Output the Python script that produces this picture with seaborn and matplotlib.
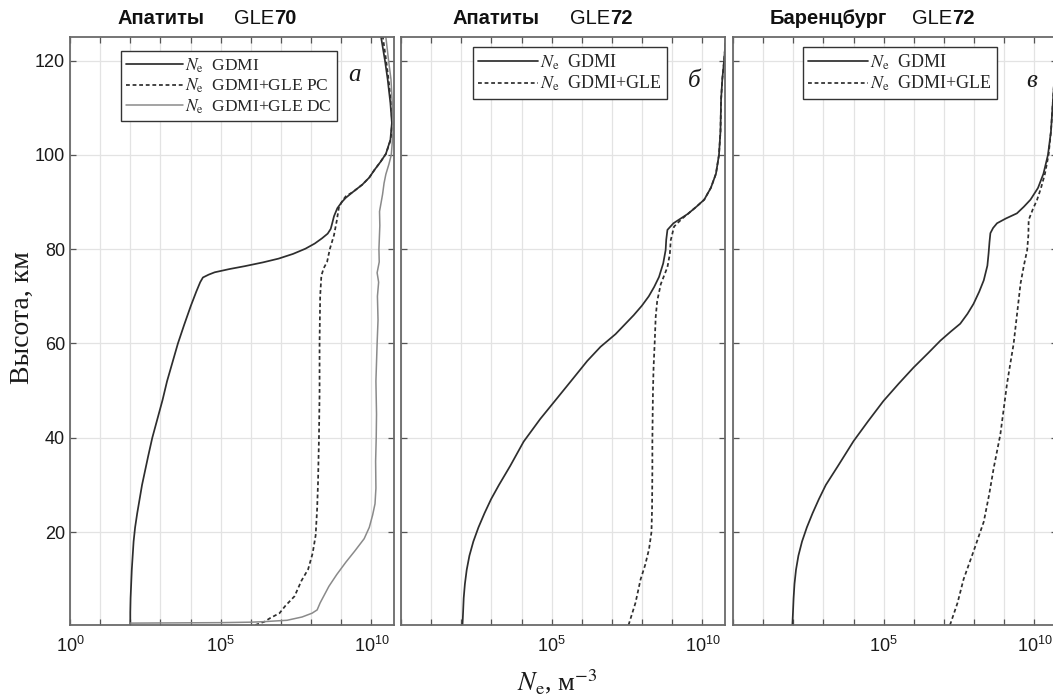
import numpy as np
import pandas as pd
import matplotlib
matplotlib.use("Agg")
import matplotlib.pyplot as plt
from matplotlib.ticker import FixedLocator, FixedFormatter, NullFormatter
import seaborn as sns

# ---------------- data: altitude (km) and log10 Ne (m^-3) ----------------
# Panel a: Apatity, GLE70
alt_a_gdmi = [0.3, 3, 6, 9, 12, 15, 18, 21, 24, 27, 30, 33, 36, 40, 44, 48, 52, 56, 60,
              64, 68, 71, 73, 74.0, 74.6, 75.1, 75.8, 76.4, 77.2, 78.0, 79.0, 80.1, 81.2,
              82.3, 83.3, 84.3, 85.5, 87.0, 88.7, 90.0, 90.9, 92.2, 93.7, 95.2, 96.8,
              98.5, 100.2, 103.2, 106.8, 111, 116, 120, 125]
ne_a_gdmi = [2.00, 2.00, 2.01, 2.03, 2.05, 2.08, 2.11, 2.16, 2.23, 2.31, 2.39, 2.49, 2.59,
             2.73, 2.90, 3.07, 3.22, 3.40, 3.58, 3.79, 4.01, 4.19, 4.32, 4.41, 4.60, 4.80,
             5.30, 5.80, 6.40, 6.92, 7.40, 7.81, 8.12, 8.36, 8.55, 8.65, 8.70, 8.76, 8.87,
             9.02, 9.15, 9.40, 9.70, 9.93, 10.10, 10.30, 10.48, 10.63, 10.68, 10.63,
             10.54, 10.45, 10.32]

alt_a_pc = [0.3, 1.0, 1.8, 2.8, 4.4, 6.4, 9.7, 12.1, 15.5, 19.3, 25, 30.7, 40, 49.4, 60, 70,
            74.4, 76, 77.3, 80, 83, 86, 88.8, 90.2, 91.2, 92.2, 93.7, 95.2, 96.8, 98.5,
            100.2, 103.2, 106.8, 111, 116, 120, 125]
ne_a_pc = [6.15, 6.45, 6.65, 6.95, 7.15, 7.45, 7.68, 7.90, 8.05, 8.15, 8.20, 8.23, 8.26,
           8.28, 8.28, 8.30, 8.34, 8.42, 8.53, 8.62, 8.76, 8.85, 8.92, 9.03, 9.15, 9.40,
           9.70, 9.93, 10.10, 10.30, 10.48, 10.64, 10.69, 10.65, 10.57, 10.49, 10.38]

alt_a_dc = [0.7, 0.8, 0.9, 1.0, 1.3, 2.0, 2.8, 3.5, 5, 8.5, 11, 13.6, 16, 18.6, 21, 23.6,
            26, 29.3, 35, 40, 45, 52, 60, 65, 70, 73, 75, 77.3, 80, 85, 88, 91.6, 94, 95.9,
            98, 100, 105, 110, 116, 120, 125]
ne_a_dc = [2.00, 5.00, 6.00, 6.40, 7.20, 7.70, 8.03, 8.20, 8.30, 8.59, 8.85, 9.15, 9.45,
           9.76, 9.93, 10.04, 10.12, 10.15, 10.14, 10.16, 10.17, 10.15, 10.19, 10.22, 10.20,
           10.24, 10.19, 10.26, 10.25, 10.28, 10.27, 10.37, 10.42, 10.48, 10.58, 10.66,
           10.72, 10.70, 10.65, 10.57, 10.48]

# Panel b: Apatity, GLE72
alt_b_gdmi = [0.3, 3, 6, 9, 12, 15, 18, 21, 24, 27, 30, 34, 39.2, 44, 48.4, 52.5, 56.3,
              59.3, 62.0, 64, 66, 68, 70, 72, 74.1, 77, 79.8, 82, 84.1, 85.5, 86.5, 87.5,
              89, 90.5, 93, 96, 100, 105, 111.7, 116, 120, 125]
ne_b_gdmi = [2.04, 2.06, 2.08, 2.12, 2.18, 2.27, 2.40, 2.57, 2.77, 2.99, 3.25, 3.62, 4.07,
             4.62, 5.18, 5.70, 6.18, 6.62, 7.12, 7.42, 7.72, 7.99, 8.22, 8.40, 8.56, 8.70,
             8.78, 8.80, 8.84, 9.04, 9.28, 9.52, 9.80, 10.06, 10.28, 10.45, 10.55, 10.60,
             10.62, 10.66, 10.72, 10.78]

alt_b_gle = [0.3, 5, 10, 13, 16.4, 20, 25, 33.5, 39.2, 45, 50, 54.9, 60.6, 65.6, 69, 72.6,
             76.2, 79, 81.9, 84.8, 86.5, 87.5, 89, 90.5, 93, 96, 100, 105, 111.7, 116,
             120, 125]
ne_b_gle = [7.55, 7.78, 7.95, 8.10, 8.23, 8.31, 8.33, 8.34, 8.34, 8.35, 8.36, 8.38, 8.42,
            8.45, 8.50, 8.62, 8.84, 8.92, 8.95, 9.06, 9.33, 9.52, 9.80, 10.06, 10.28,
            10.45, 10.55, 10.60, 10.62, 10.66, 10.72, 10.78]

# Panel c: Barentsburg, GLE72
alt_c_gdmi = [0.3, 3, 6, 9, 12, 15, 18, 21, 24, 27, 30, 34, 39.3, 43.5, 47.8, 51.5, 54.9,
              58, 60.6, 62.5, 64.2, 66.3, 68.4, 71, 73.4, 76.5, 79.1, 81.5, 83.4, 84.5,
              85.5, 86.5, 87.6, 89, 90.5, 93, 96, 100, 105, 110, 115, 120, 125]
ne_c_gdmi = [1.97, 1.99, 2.01, 2.04, 2.09, 2.17, 2.29, 2.45, 2.64, 2.85, 3.08, 3.48, 4.00,
             4.48, 4.99, 5.50, 5.99, 6.48, 6.88, 7.22, 7.54, 7.78, 7.98, 8.17, 8.32, 8.44,
             8.48, 8.51, 8.54, 8.63, 8.76, 9.05, 9.42, 9.65, 9.87, 10.12, 10.30, 10.45,
             10.55, 10.60, 10.65, 10.70, 10.75]

alt_c_gle = [0.3, 5, 10, 15.9, 22.2, 28, 33.6, 40.7, 46, 51.4, 55.7, 59.9, 66, 72.7, 76.5,
             79.8, 83, 86.2, 88.5, 90.5, 93, 96, 100, 105, 110, 115, 120, 125]
ne_c_gle = [7.20, 7.45, 7.65, 7.98, 8.32, 8.50, 8.65, 8.87, 8.98, 9.09, 9.20, 9.31, 9.42,
            9.54, 9.65, 9.76, 9.80, 9.81, 9.95, 10.09, 10.22, 10.35, 10.47, 10.55, 10.60,
            10.65, 10.70, 10.75]

stations = ["Апатиты", "Апатиты", "Баренцбург"]
events = ["70", "72", "72"]
panel_tags = ["а", "б", "в"]
x_tick_labels = [r"$\mathdefault{10^{0}}$", r"$\mathdefault{10^{5}}$", r"$\mathdefault{10^{10}}$"]
y_ticks = [20, 40, 60, 80, 100, 120]

# ---------------- style ----------------
sns.set_style("ticks")
plt.rcParams["font.family"] = ["Liberation Sans", "DejaVu Sans"]
plt.rcParams["mathtext.fontset"] = "stix"
plt.rcParams["axes.edgecolor"] = "#6a6a6a"
plt.rcParams["axes.linewidth"] = 1.3

SERIF = ["Liberation Serif", "DejaVu Serif"]
DARK = "#2e2e2e"
GREY = "#8a8a8a"

fig = plt.figure(figsize=(10.53, 6.98), dpi=100)
W, H = 1053.0, 698.0
ax_w = 324 / W
ax_h = 588 / H
ax_b = 1 - 625 / H
lefts = [70 / W, 401 / W, 733 / W]
axes = [fig.add_axes([l, ax_b, ax_w, ax_h]) for l in lefts]


def draw(ax, alt, ne, label, **kw):
    df = pd.DataFrame({"ne": np.power(10.0, ne), "alt": alt})
    sns.lineplot(data=df, x="ne", y="alt", sort=False, estimator=None,
                 ax=ax, label=label, **kw)


lab_gdmi = r"$N_{\rm e}$  GDMI"
solid = dict(color=DARK, linewidth=1.25)
dotted = dict(color=DARK, linewidth=1.25, linestyle=(0, (2.2, 1.6)))
grey = dict(color=GREY, linewidth=1.1)

draw(axes[0], alt_a_gdmi, ne_a_gdmi, lab_gdmi, **solid)
draw(axes[0], alt_a_pc, ne_a_pc, r"$N_{\rm e}$  GDMI+GLE PC", **dotted)
draw(axes[0], alt_a_dc, ne_a_dc, r"$N_{\rm e}$  GDMI+GLE DC", **grey)
draw(axes[1], alt_b_gdmi, ne_b_gdmi, lab_gdmi, **solid)
draw(axes[1], alt_b_gle, ne_b_gle, r"$N_{\rm e}$  GDMI+GLE", **dotted)
draw(axes[2], alt_c_gdmi, ne_c_gdmi, lab_gdmi, **solid)
draw(axes[2], alt_c_gle, ne_c_gle, r"$N_{\rm e}$  GDMI+GLE", **dotted)

legend_anchor = [(0.157, 0.976), (0.222, 0.983), (0.216, 0.983)]
title_pos = [(0.148, 0.506), (0.160, 0.522), (0.114, 0.552)]
tag_pos = [(0.878, 0.935), (0.904, 0.925), (0.923, 0.925)]
legend_size = [12.5, 13, 13]

for i, ax in enumerate(axes):
    ax.set_xscale("log")
    ax.set_xlim(1, 10 ** 10.75)
    ax.set_ylim(0.3, 125)
    ax.xaxis.set_major_locator(FixedLocator([1e0, 1e5, 1e10]))
    ax.xaxis.set_minor_locator(FixedLocator([10.0 ** k for k in range(0, 11)]))
    labels = list(x_tick_labels) if i == 0 else [""] + x_tick_labels[1:]
    ax.xaxis.set_major_formatter(FixedFormatter(labels))
    ax.xaxis.set_minor_formatter(NullFormatter())
    ax.set_yticks(y_ticks)
    if i > 0:
        ax.set_yticklabels([])
    ax.tick_params(which="both", direction="in", top=True, right=True,
                   length=4, width=0.9, color="#555555", labelsize=13,
                   labelcolor="#1a1a1a")
    ax.tick_params(axis="x", which="major", pad=8)
    ax.grid(True, which="both", color="#e3e3e3", linewidth=0.9)
    ax.set_axisbelow(True)
    ax.set_xlabel("")
    ax.set_ylabel("")

    leg = ax.legend(loc="upper left", bbox_to_anchor=legend_anchor[i],
                    borderaxespad=0, frameon=True, fancybox=False, framealpha=1,
                    edgecolor="#333333", handlelength=3.3, handletextpad=0.1,
                    labelspacing=0.12, borderpad=0.3,
                    prop={"family": SERIF, "size": legend_size[i]})
    leg.get_frame().set_linewidth(1.0)

    # title: bold station, regular "GLE", bold event number
    tx, gx = title_pos[i]
    ax.text(tx, 1.022, stations[i], transform=ax.transAxes, ha="left",
            va="baseline", fontsize=14.5, fontweight="bold", color="#111111")
    t_gle = ax.text(gx, 1.022, "GLE", transform=ax.transAxes, ha="left",
                    va="baseline", fontsize=14.5, color="#111111")
    ax.annotate(events[i], xy=(1, 0), xycoords=t_gle, ha="left", va="bottom",
                fontsize=14.5, fontweight="bold", color="#111111")

    ax.text(tag_pos[i][0], tag_pos[i][1], panel_tags[i], transform=ax.transAxes,
            ha="center", va="center", fontsize=18, fontstyle="italic",
            family=SERIF, color="#1a1a1a")

fig.text(0.021, 0.545, "Высота, км", rotation=90, ha="center", va="center",
         fontsize=20, family=SERIF, color="#1a1a1a")
fig.text(0.529, 0.024, r"$N_{\rm e}$, м$^{-3}$", ha="center", va="center",
         fontsize=19, family=SERIF, color="#1a1a1a")

fig.savefig("out.png", dpi=100, facecolor="white")
